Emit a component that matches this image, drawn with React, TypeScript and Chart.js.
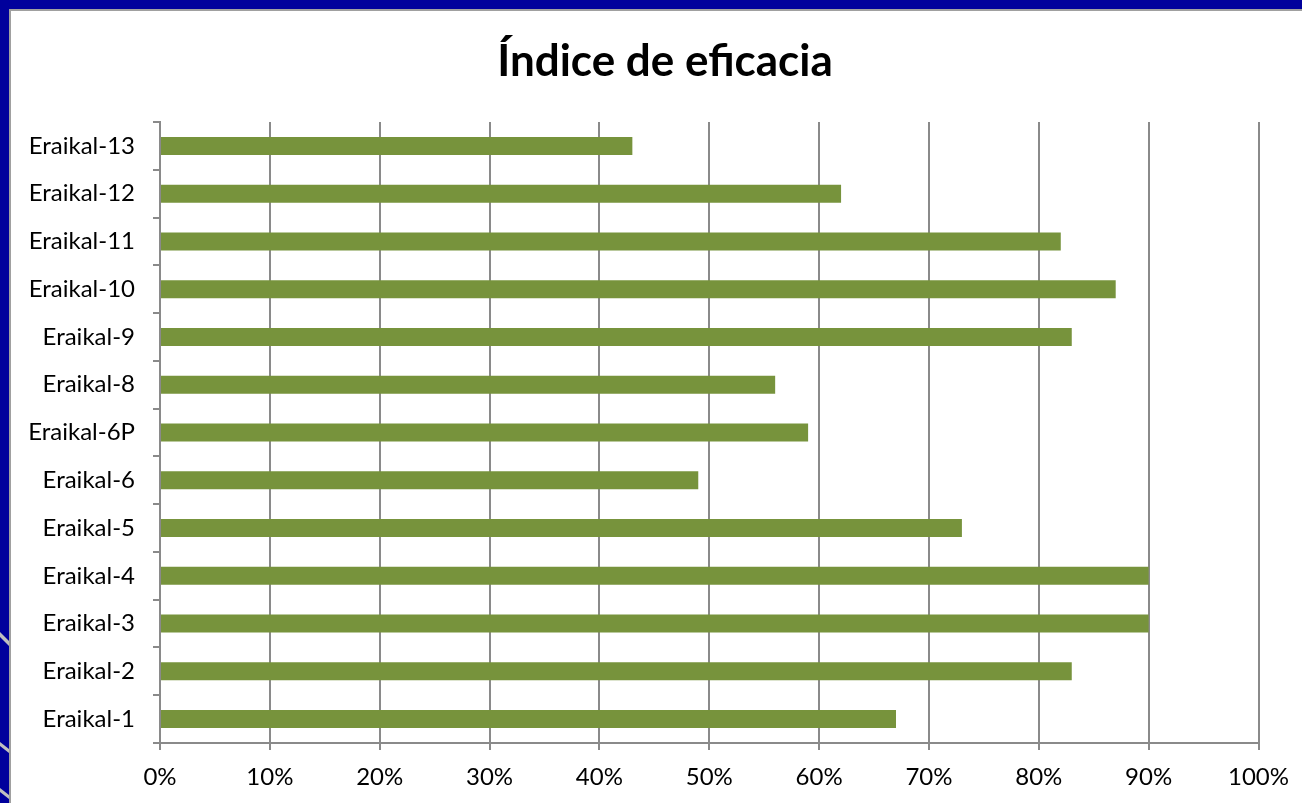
import React, { useEffect, useRef } from "react";
import { Chart, registerables } from "chart.js";

Chart.register(...registerables);

const TITLE = "Índice de eficacia";
const CATEGORIES = [
  "Eraikal-1",
  "Eraikal-2",
  "Eraikal-3",
  "Eraikal-4",
  "Eraikal-5",
  "Eraikal-6",
  "Eraikal-6P",
  "Eraikal-8",
  "Eraikal-9",
  "Eraikal-10",
  "Eraikal-11",
  "Eraikal-12",
  "Eraikal-13",
];
const VALUES = [67, 83, 90, 90, 73, 49, 59, 56, 83, 87, 82, 62, 43];
const X_MIN = 0;
const X_MAX = 100;
const X_STEP = 10;

const W = 1302;
const H = 803;
const GRID = "#8a8a8a";
const BAR = "#77933C";
const FONT = "Lato, 'Open Sans', sans-serif";

const titlePlugin = {
  id: "centeredTitle",
  afterDraw(chart: any) {
    const ctx = chart.ctx;
    ctx.save();
    ctx.font = `bold 44px ${FONT}`;
    ctx.fillStyle = "#000000";
    ctx.textAlign = "center";
    ctx.textBaseline = "middle";
    ctx.fillText(TITLE, 665, 62);
    ctx.restore();
  },
};

export default function App() {
  const ref = useRef<HTMLCanvasElement | null>(null);

  useEffect(() => {
    if (!ref.current) return;
    const chart = new Chart(ref.current, {
      type: "bar",
      data: {
        labels: CATEGORIES,
        datasets: [
          {
            data: VALUES,
            backgroundColor: BAR,
            borderWidth: 0,
            barPercentage: 0.377,
            categoryPercentage: 1,
          },
        ],
      },
      plugins: [titlePlugin],
      options: {
        indexAxis: "y",
        animation: false,
        responsive: false,
        devicePixelRatio: 1,
        layout: { padding: { top: 122, right: 39, bottom: 0, left: 0 } },
        plugins: {
          legend: { display: false },
          tooltip: { enabled: false },
          title: { display: false },
        },
        scales: {
          x: {
            type: "linear",
            min: X_MIN,
            max: X_MAX,
            afterFit: (s: any) => {
              s.height = 60;
            },
            ticks: {
              stepSize: X_STEP,
              color: "#000000",
              padding: 13,
              font: { family: FONT, size: 24 },
              callback: (v: any) => v + "%",
              maxRotation: 0,
            },
            grid: {
              color: GRID,
              lineWidth: 2,
              drawOnChartArea: true,
              drawTicks: true,
              tickLength: 7,
            },
            border: { display: true, color: GRID, width: 2 },
          },
          y: {
            type: "category",
            reverse: true,
            afterFit: (s: any) => {
              s.width = 160;
            },
            ticks: {
              color: "#000000",
              padding: 18,
              font: { family: FONT, size: 24 },
            },
            grid: {
              offset: true,
              color: GRID,
              lineWidth: 2,
              drawOnChartArea: false,
              drawTicks: true,
              tickLength: 7,
            },
            border: { display: true, color: GRID, width: 2 },
          },
        },
      },
    });
    return () => chart.destroy();
  }, []);

  return (
    <div
      style={{
        position: "fixed",
        left: 0,
        top: 0,
        width: W,
        height: H,
        background: "#00009C",
        overflow: "hidden",
      }}
    >
      <svg
        width={10}
        height={H}
        style={{ position: "absolute", left: 0, top: 0 }}
      >
        <polygon points="0,632 9,641 9,646 0,637" fill="#c0c0c0" />
        <polygon points="0,742 9,749 9,753 0,746" fill="#c0c0c0" />
        <polygon points="0,788 9,795 9,799 0,792" fill="#c0c0c0" />
      </svg>
      <div
        style={{
          position: "absolute",
          left: 9,
          top: 9,
          right: 0,
          bottom: 0,
          background: "#ffffff",
          borderLeft: "2px solid #a0a0a0",
          borderTop: "2px solid #a0a0a0",
        }}
      />
      <canvas
        ref={ref}
        width={W}
        height={H}
        style={{ position: "absolute", left: 0, top: 0, width: W, height: H }}
      />
    </div>
  );
}
